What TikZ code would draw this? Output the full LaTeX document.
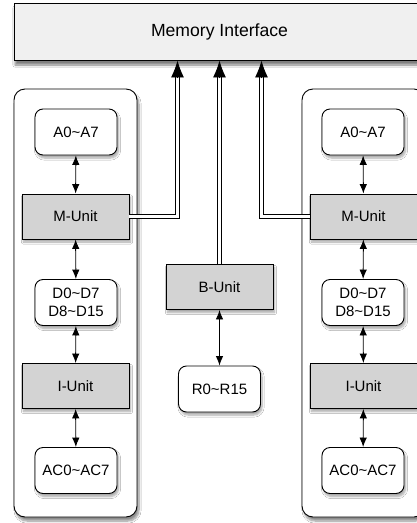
\documentclass[tikz,border=0pt]{standalone}
\usepackage{fontspec}
\setmainfont{Liberation Sans}
\usetikzlibrary{arrows.meta,shadows.blur}
\definecolor{memfill}{RGB}{240,240,240}
\definecolor{unitfill}{RGB}{211,211,211}
\begin{document}
\begin{tikzpicture}[x=1pt,y=-1pt,
  font=\fontsize{15}{17.5}\selectfont,
  reg/.style={draw, line width=0.9pt, fill=white, rounded corners=8pt, align=center,
    minimum width=82pt, minimum height=46pt, inner sep=0pt,
    blur shadow={shadow xshift=1.5pt, shadow yshift=-3pt, shadow blur steps=6, shadow opacity=35}},
  unit/.style={draw, line width=0.9pt, fill=unitfill, minimum width=107pt, minimum height=45pt, inner sep=0pt,
    blur shadow={shadow xshift=1.5pt, shadow yshift=-3pt, shadow blur steps=6, shadow opacity=35}},
  cluster/.style={draw, line width=0.9pt, fill=white, rounded corners=11pt,
    minimum width=123pt, minimum height=428pt, inner sep=0pt,
    blur shadow={shadow xshift=2pt, shadow yshift=-4pt, shadow blur steps=8, shadow opacity=45}},
  link/.style={line width=0.9pt, {Latex[length=9.5pt,width=7.5pt]}-{Latex[length=9.5pt,width=7.5pt]}},
  bus/.style={double, line width=0.9pt, double distance=2.4pt, shorten >=10pt},
  bustip/.style={line width=0.9pt, -{Latex[length=17pt,width=13pt]}},
]
\clip (0,0) rectangle (417,523);
\fill[white] (0,0) rectangle (417,523);
\node[draw, line width=0.9pt, fill=memfill, minimum width=411pt, minimum height=57pt, inner sep=0pt,
  font=\fontsize{17.6}{20}\selectfont,
  blur shadow={shadow xshift=1pt, shadow yshift=-5pt, shadow blur steps=8, shadow opacity=50}]
  (mem) at (219.5,31.5) {Memory Interface};
% left cluster
\node[cluster] (cl) at (75.5,303) {};
\node[reg] (aL) at (76,132) {A0\textasciitilde A7};
\node[unit] (mL) at (75.5,216.5) {M-Unit};
\node[reg] (dL) at (76,302.5) {D0\textasciitilde D7\\D8\textasciitilde D15};
\node[unit] (iL) at (75.5,386) {I-Unit};
\node[reg] (acL) at (76,470.5) {AC0\textasciitilde AC7};
\draw[link] (aL) -- (mL);
\draw[link] (mL) -- (dL);
\draw[link] (dL) -- (iL);
\draw[link] (iL) -- (acL);
% right cluster
\node[cluster] (cr) at (363.5,303) {};
\node[reg] (aR) at (363,132) {A0\textasciitilde A7};
\node[unit] (mR) at (363.5,216.5) {M-Unit};
\node[reg] (dR) at (363,302.5) {D0\textasciitilde D7\\D8\textasciitilde D15};
\node[unit] (iR) at (363.5,386) {I-Unit};
\node[reg] (acR) at (363,470.5) {AC0\textasciitilde AC7};
\draw[link] (aR) -- (mR);
\draw[link] (mR) -- (dR);
\draw[link] (dR) -- (iR);
\draw[link] (iR) -- (acR);
% middle
\node[unit] (bU) at (219.5,287) {B-Unit};
\node[reg] (rg) at (219.5,389) {R0\textasciitilde R15};
\draw[link] (bU) -- (rg);
% buses
\coordinate (pL) at ([xshift=-42pt]mem.south);
\coordinate (pR) at ([xshift=42pt]mem.south);
\draw[bus] (mL.east) -| (pL);
\draw[bus] (bU.north) -- (mem.south);
\draw[bus] (mR.west) -| (pR);
\draw[bustip] ([yshift=-18pt]pL) -- (pL);
\draw[bustip] ([yshift=-18pt]mem.south) -- (mem.south);
\draw[bustip] ([yshift=-18pt]pR) -- (pR);
\end{tikzpicture}
\end{document}
